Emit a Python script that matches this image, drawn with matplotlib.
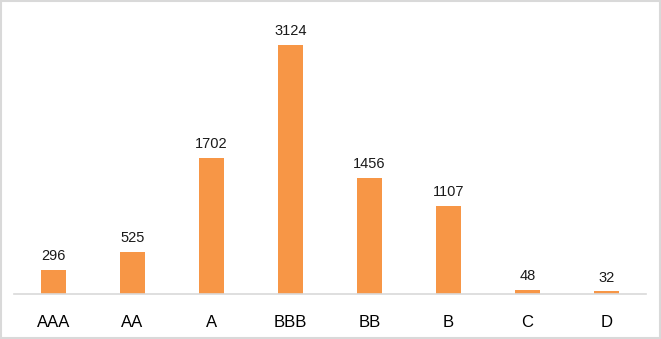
import matplotlib.pyplot as plt
import numpy as np

categories = ['AAA', 'AA', 'A', 'BBB', 'BB', 'B', 'C', 'D']
counts = [296, 525, 1702, 3124, 1456, 1107, 48, 32]

bar_color = '#F79646'

fig = plt.figure(figsize=(6.61, 3.39), dpi=100)
fig.patch.set_facecolor('white')

# light frame round the whole chart, like the Excel chart area
frame = plt.Rectangle((0.0015, 0.003), 0.997, 0.994, transform=fig.transFigure,
                      fill=False, edgecolor='#D9D9D9', linewidth=1.5)
fig.patches.append(frame)

ax = fig.add_axes([14 / 661, 45 / 339, 632 / 661, 279 / 339])
x = np.arange(len(categories))
bars = ax.bar(x, counts, width=0.32, color=bar_color)

ax.set_xlim(-0.5, len(categories) - 0.5)
ax.set_ylim(0, 3500)

for rect, val in zip(bars, counts):
    ax.annotate(f'{val}', (rect.get_x() + rect.get_width() / 2, rect.get_height()),
                xytext=(0, 5), textcoords='offset points', ha='center', va='bottom',
                fontsize=10.5, family='Liberation Sans', color='#1a1a1a')

ax.set_xticks(x)
ax.set_xticklabels(categories, fontsize=12, family='Liberation Sans', color='black')
ax.tick_params(axis='x', length=0, pad=15)
ax.set_yticks([])

for side in ['top', 'right', 'left']:
    ax.spines[side].set_visible(False)
ax.spines['bottom'].set_color('#D9D9D9')
ax.spines['bottom'].set_linewidth(1.2)

fig.savefig('out.png', dpi=100)
